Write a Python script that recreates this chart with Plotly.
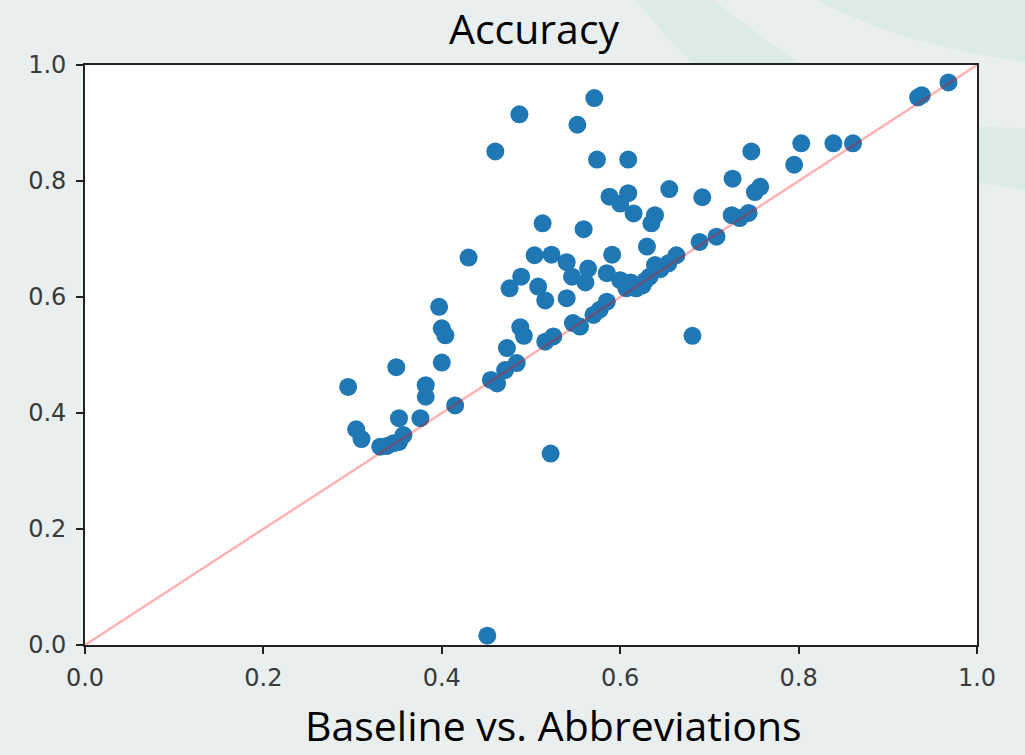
import plotly.graph_objects as go

# Data (baseline accuracy vs. abbreviations accuracy)
baseline = [
    0.295, 0.304, 0.310, 0.331, 0.338, 0.346, 0.352, 0.357, 0.349, 0.352,
    0.376, 0.382, 0.382, 0.397, 0.400, 0.404, 0.400, 0.415, 0.430, 0.455,
    0.462, 0.460, 0.487, 0.451, 0.471, 0.484, 0.473, 0.488, 0.492, 0.476,
    0.489, 0.522, 0.504, 0.523, 0.508, 0.516, 0.540, 0.516, 0.525, 0.513,
    0.540, 0.546, 0.564, 0.561, 0.559, 0.552, 0.571, 0.574, 0.609, 0.547,
    0.555, 0.570, 0.577, 0.585, 0.585, 0.591, 0.588, 0.600, 0.609, 0.615,
    0.600, 0.607, 0.618, 0.633, 0.639, 0.630, 0.639, 0.635, 0.655, 0.654,
    0.663, 0.681, 0.692, 0.689, 0.708, 0.725, 0.734, 0.744, 0.726, 0.747,
    0.751, 0.757, 0.795, 0.803, 0.839, 0.861, 0.934, 0.938, 0.968, 0.612,
    0.625, 0.628, 0.645,
]
abbreviations = [
    0.445, 0.372, 0.355, 0.342, 0.343, 0.348, 0.350, 0.362, 0.479, 0.391,
    0.391, 0.448, 0.428, 0.583, 0.546, 0.534, 0.487, 0.413, 0.668, 0.457,
    0.451, 0.851, 0.915, 0.016, 0.474, 0.486, 0.512, 0.548, 0.533, 0.615,
    0.635, 0.330, 0.672, 0.673, 0.618, 0.594, 0.598, 0.523, 0.532, 0.727,
    0.660, 0.635, 0.649, 0.625, 0.717, 0.897, 0.943, 0.837, 0.837, 0.555,
    0.549, 0.569, 0.578, 0.592, 0.641, 0.673, 0.773, 0.761, 0.779, 0.744,
    0.629, 0.615, 0.615, 0.635, 0.655, 0.687, 0.741, 0.727, 0.786, 0.658,
    0.672, 0.533, 0.772, 0.695, 0.704, 0.741, 0.736, 0.745, 0.804, 0.851,
    0.781, 0.790, 0.828, 0.865, 0.865, 0.865, 0.944, 0.948, 0.970, 0.625,
    0.620, 0.628, 0.648,
]
diag_x = [0.0, 1.0]
diag_y = [0.0, 1.0]
tick_vals = [0.0, 0.2, 0.4, 0.6, 0.8, 1.0]
tick_text = ["0.0", "0.2", "0.4", "0.6", "0.8", "1.0"]
title_text = "Accuracy"
bottom_text = "Baseline vs. Abbreviations"

W, H = 1025, 755
L, R, T, B = 85, 977, 65, 645


def px(x):
    return (x - L) / (R - L)


def py(y):
    return (B - y) / (B - T)


def path(points):
    out = []
    for cmd, *c in points:
        vals = []
        for i in range(0, len(c), 2):
            vals.append(f"{px(c[i]):.4f},{py(c[i+1]):.4f}")
        out.append(cmd + " " + " ".join(vals))
    return " ".join(out) + " Z"


fig = go.Figure()
fig.add_trace(go.Scatter(
    x=baseline, y=abbreviations, mode="markers",
    marker=dict(color="#1f77b4", size=18, line=dict(width=0)),
    showlegend=False, hoverinfo="skip",
))
fig.add_trace(go.Scatter(
    x=diag_x, y=diag_y, mode="lines",
    line=dict(color="rgba(255,0,0,0.3)", width=2.5),
    showlegend=False, hoverinfo="skip",
))

green = "#dcebe6"
shapes = [
    dict(type="path", xref="paper", yref="paper", layer="below",
         path=path([("M", 635, 0), ("L", 713, 0), ("Q", 752, 30, 800, 64),
                    ("L", 693, 64), ("Q", 662, 32, 635, 0)]),
         fillcolor=green, line=dict(width=0)),
    dict(type="path", xref="paper", yref="paper", layer="below",
         path=path([("M", 817, 0), ("L", 1025, 0), ("L", 1025, 62),
                    ("Q", 900, 45, 817, 0)]),
         fillcolor=green, line=dict(width=0)),
    dict(type="path", xref="paper", yref="paper", layer="below",
         path=path([("M", 979, 127), ("Q", 1000, 127, 1025, 129),
                    ("L", 1025, 190), ("Q", 1000, 186, 979, 182)]),
         fillcolor=green, line=dict(width=0)),
]

axis_common = dict(
    range=[0, 1], tickmode="array", tickvals=tick_vals, ticktext=tick_text,
    showgrid=False, zeroline=False, showline=True, mirror=True,
    linecolor="#222222", linewidth=1.6, ticks="outside", ticklen=7,
    tickwidth=1.6, tickcolor="#222222",
    tickfont=dict(family="DejaVu Sans", size=24, color="#3a3a3a"),
)

fig.update_layout(
    width=W, height=H,
    margin=dict(l=L, r=W - R, t=T, b=H - B),
    paper_bgcolor="#e9eeee", plot_bgcolor="#ffffff",
    xaxis=dict(**axis_common),
    yaxis=dict(**axis_common),
    shapes=shapes,
    annotations=[
        dict(text=title_text, xref="paper", yref="paper",
             x=px(534), y=py(28), xanchor="center", yanchor="middle",
             showarrow=False,
             font=dict(family="Open Sans", size=41, color="#000000")),
        dict(text=bottom_text, xref="paper", yref="paper",
             x=px(553), y=py(755), xanchor="center", yanchor="bottom",
             showarrow=False,
             font=dict(family="Open Sans", size=41, color="#000000")),
    ],
)
fig.update_xaxes(ticklabelstandoff=3)
fig.update_yaxes(ticklabelstandoff=5)

fig.write_html("out.html")
